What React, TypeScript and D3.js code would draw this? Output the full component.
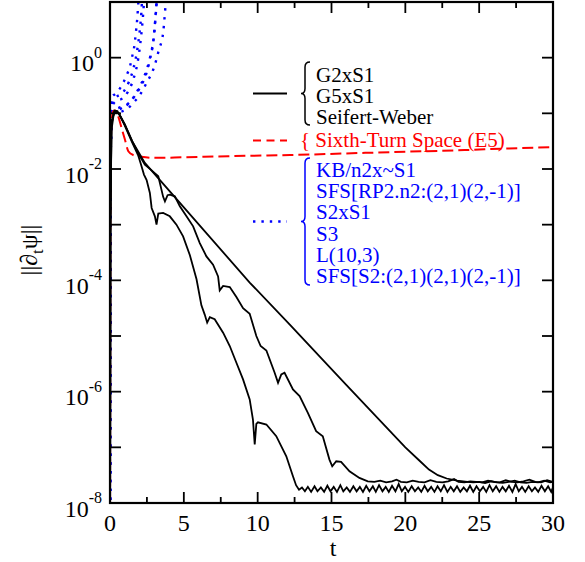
import React from "react";
import * as d3 from "d3";

// t-axis ticks and log-axis decades
const xTicksMajor = [0, 5, 10, 15, 20, 25, 30];
const xTicksMinor = [2.5, 7.5, 12.5, 17.5, 22.5, 27.5];
const yDecades = [-8, -7, -6, -5, -4, -3, -2, -1, 0, 1];
const yLabelDecades = [-8, -6, -4, -2, 0];

// series: [t, log10 ||d_t psi||]
const seriesSteep: [number, number][] = [
  [0, -10], [0.03, -3], [0.1, -1.3], [0.25, -1.02], [0.4, -0.97], [0.6, -1.0], [1.0, -1.22], [1.5, -1.52],
  [1.9, -1.75], [2.1, -1.92], [2.3, -2.1], [2.48, -2.2], [2.7, -2.43], [2.82, -2.7], [3.04, -2.85], [3.15, -3.0],
  [3.27, -2.8], [3.6, -2.79], [4.05, -2.85], [4.5, -3.0], [4.95, -3.21], [5.41, -3.55], [5.86, -3.98], [6.19, -4.45],
  [6.42, -4.62], [6.58, -4.76], [6.76, -4.66], [7.09, -4.7], [7.66, -4.94], [8.11, -5.18], [8.56, -5.48], [9.01, -5.78],
  [9.46, -6.14], [9.68, -6.5], [9.8, -6.95], [9.91, -6.58], [10.02, -6.55], [10.59, -6.59], [11.26, -6.8], [11.94, -7.16],
  [12.39, -7.52], [12.6, -7.68], [12.8, -7.76],
  [13.0, -7.72], [13.2, -7.79], [13.4, -7.71], [13.62, -7.8], [13.85, -7.7], [14.05, -7.79], [14.28, -7.72], [14.5, -7.8],
  [14.72, -7.69], [14.93, -7.79], [15.15, -7.71], [15.37, -7.8], [15.6, -7.68], [15.8, -7.79], [16.03, -7.72], [16.25, -7.8],
  [16.48, -7.7], [16.7, -7.79], [16.92, -7.71], [17.13, -7.8], [17.35, -7.69], [17.57, -7.79], [17.8, -7.7], [18.0, -7.8],
  [18.22, -7.68], [18.45, -7.79], [18.67, -7.71], [18.88, -7.8], [19.1, -7.69], [19.33, -7.79], [19.55, -7.66], [19.76, -7.79],
  [19.98, -7.71], [20.2, -7.8], [20.43, -7.7], [20.65, -7.79], [20.87, -7.72], [21.08, -7.8], [21.3, -7.69], [21.52, -7.79],
  [21.75, -7.71], [21.97, -7.8], [22.18, -7.7], [22.4, -7.79], [22.62, -7.68], [22.85, -7.8], [23.07, -7.71], [23.28, -7.79],
  [23.5, -7.7], [23.72, -7.8], [23.95, -7.72], [24.17, -7.79], [24.38, -7.69], [24.6, -7.8], [24.82, -7.7], [25.05, -7.79],
  [25.27, -7.71], [25.48, -7.8], [25.7, -7.68], [25.92, -7.79], [26.15, -7.7], [26.37, -7.8], [26.58, -7.71], [26.8, -7.79],
  [27.02, -7.69], [27.25, -7.8], [27.47, -7.66], [27.68, -7.79], [27.9, -7.71], [28.12, -7.8], [28.35, -7.7], [28.57, -7.79],
  [28.78, -7.72], [29.0, -7.8], [29.22, -7.69], [29.45, -7.79], [29.67, -7.7], [29.88, -7.8], [30.0, -7.72],
];

const seriesWiggly: [number, number][] = [
  [0, -10], [0.03, -3], [0.1, -1.2], [0.3, -0.95], [0.5, -0.96], [1.0, -1.2], [1.5, -1.5], [2.0, -1.76],
  [2.36, -1.92], [2.8, -2.02], [3.27, -2.13], [3.6, -2.5], [3.72, -2.58], [3.9, -2.47], [4.05, -2.46], [4.39, -2.49],
  [4.73, -2.67], [5.18, -2.85], [5.63, -3.03], [6.08, -3.33], [6.53, -3.57], [6.98, -3.72], [7.32, -3.93], [7.43, -4.18],
  [7.66, -4.1], [8.11, -4.12], [8.56, -4.3], [9.01, -4.5], [9.46, -4.6], [9.91, -5.0], [10.2, -5.18], [10.59, -5.26],
  [11.15, -5.66], [11.38, -5.84], [11.6, -5.69], [11.82, -5.66], [12.39, -5.96], [12.84, -6.08], [13.4, -6.38], [13.96, -6.71],
  [14.41, -6.8], [14.86, -7.22], [15.05, -7.34], [15.32, -7.25], [15.65, -7.26], [16.22, -7.43], [16.89, -7.55], [17.46, -7.61],
  [17.9, -7.62], [18.3, -7.6], [18.7, -7.63], [19.1, -7.61], [19.4, -7.58], [19.7, -7.62], [20.1, -7.63], [20.5, -7.6],
  [20.9, -7.62], [21.3, -7.63], [21.7, -7.59], [22.1, -7.62], [22.5, -7.63], [22.9, -7.61], [23.3, -7.57], [23.6, -7.62],
  [24.0, -7.63], [24.4, -7.61], [24.8, -7.62], [25.2, -7.63], [25.6, -7.6], [26.0, -7.62], [26.4, -7.63], [26.8, -7.59],
  [27.2, -7.62], [27.6, -7.63], [28.0, -7.61], [28.4, -7.58], [28.8, -7.62], [29.2, -7.63], [29.6, -7.59], [30.0, -7.62],
];

const seriesStraight: [number, number][] = [
  [0, -10], [0.03, -3], [0.1, -1.15], [0.3, -0.97], [0.6, -1.0], [1.0, -1.2], [1.5, -1.5], [2.36, -1.89],
  [5.0, -2.69], [9.46, -4.04], [12.16, -4.79], [16.0, -5.88], [20.0, -7.0], [21.0, -7.25], [21.6, -7.4], [22.2, -7.5],
  [22.8, -7.56], [23.5, -7.6], [24.2, -7.62], [24.6, -7.63], [25.0, -7.62], [25.4, -7.64], [25.8, -7.61], [26.2, -7.63],
  [26.6, -7.64], [27.0, -7.62], [27.4, -7.6], [27.8, -7.63], [28.2, -7.64], [28.6, -7.62], [29.0, -7.63], [29.4, -7.6],
  [29.8, -7.63], [30.0, -7.62],
];

const seriesE5: [number, number][] = [
  [0, -10], [0.02, -3], [0.08, -1.3], [0.2, -0.97], [0.35, -0.95], [0.55, -1.05], [0.8, -1.28], [1.01, -1.47],
  [1.24, -1.68], [1.58, -1.75], [2.14, -1.78], [3, -1.8], [5, -1.79], [8, -1.77], [12.2, -1.75], [16, -1.72],
  [20, -1.69], [24, -1.66], [27, -1.63], [30, -1.61],
];

const blueSeries: [number, number][][] = [
  [[0, -10], [0.03, -2], [0.1, -0.8], [0.2, -0.68], [0.34, -0.66], [0.6, -0.58], [0.9, -0.45], [1.15, -0.3], [1.35, -0.16], [1.5, 0.02], [1.62, 0.16], [1.76, 0.47], [1.85, 0.72], [1.91, 0.95], [2.0, 1.3]],
  [[0, -10], [0.03, -2], [0.12, -0.9], [0.4, -0.78], [0.79, -0.74], [1.24, -0.6], [1.58, -0.39], [1.91, -0.02], [2.05, 0.25], [2.17, 0.55], [2.25, 0.8], [2.35, 1.2]],
  [[0, -10], [0.03, -2], [0.15, -0.95], [0.6, -0.9], [1.19, -0.84], [1.87, -0.59], [2.36, -0.31], [2.7, -0.01], [2.93, 0.29], [3.09, 0.77], [3.2, 1.2]],
  [[0, -10], [0.03, -2], [0.15, -1.0], [0.6, -0.98], [1.13, -0.93], [1.58, -0.81], [2.0, -0.68], [2.48, -0.45], [3.0, -0.16], [3.31, 0.14], [3.6, 0.45], [3.76, 0.93], [3.85, 1.2]],
  [[0, -10], [0.03, -2], [0.1, -0.85], [0.4, -0.72], [0.9, -0.62], [1.3, -0.42], [1.6, -0.18], [1.85, 0.15], [2.0, 0.45], [2.12, 0.8], [2.2, 1.2]],
  [[0, -10], [0.03, -2], [0.15, -0.98], [0.7, -0.92], [1.4, -0.78], [2.0, -0.55], [2.5, -0.25], [2.8, 0.1], [3.0, 0.45], [3.12, 0.85], [3.22, 1.2]],
];

const legendBlack = ["G2xS1", "G5xS1", "Seifert-Weber"];
const legendRed = ["Sixth-Turn Space (E5)"];
const legendBlue = ["KB/n2x~S1", "SFS[RP2.n2:(2,1)(2,-1)]", "S2xS1", "S3", "L(10,3)", "SFS[S2:(2,1)(2,1)(2,-1)]"];

const W = 585, H = 562;
const L = 110, R = 553, T = 2, B = 503;
const FONT = "Liberation Serif, Times New Roman, Times, DejaVu Serif, serif";

function brace(x: number, y1: number, y2: number) {
  const ym = (y1 + y2) / 2;
  return `M${x + 5},${y1} Q${x},${y1} ${x},${y1 + 5} L${x},${ym - 5} Q${x},${ym} ${x - 4},${ym} Q${x},${ym} ${x},${ym + 5} L${x},${y2 - 5} Q${x},${y2} ${x + 5},${y2}`;
}

export default function App() {
  const x = d3.scaleLinear().domain([0, 30]).range([L, R]);
  const y = d3.scaleLog().domain([1e-8, 1e1]).range([B, T]);
  const toPts = (s: [number, number][]) => s.map(([t, v]) => [t, Math.pow(10, v)] as [number, number]);
  const lineLin = d3.line<[number, number]>().x((d) => x(d[0])).y((d) => y(d[1])).curve(d3.curveLinear);
  const lineSmooth = d3.line<[number, number]>().x((d) => x(d[0])).y((d) => y(d[1])).curve(d3.curveMonotoneX);

  const legendX1 = 253, legendX2 = 287, textX = 316;
  const ts = { fontFamily: FONT } as React.CSSProperties;
  return (
    <svg width={W} height={H} style={{ position: "absolute", left: 0, top: 0, background: "#fff", fontFamily: FONT }}>
      <defs>
        <clipPath id="plot">
          <rect x={L} y={T} width={R - L} height={B - T} />
        </clipPath>
      </defs>
      <rect x={0} y={0} width={W} height={H} fill="#fff" />
      <g clipPath="url(#plot)" fill="none">
        {blueSeries.map((s, i) => (
          <path key={i} d={lineSmooth(toPts(s)) || ""} stroke="#0000ff" strokeWidth={2.4} strokeDasharray="2.4 6.4" />
        ))}
        <path d={lineSmooth(toPts(seriesE5)) || ""} stroke="#ff0000" strokeWidth={2} strokeDasharray="11 5" />
        <path d={lineLin(toPts(seriesStraight)) || ""} stroke="#000" strokeWidth={1.8} />
        <path d={lineLin(toPts(seriesWiggly)) || ""} stroke="#000" strokeWidth={1.8} />
        <path d={lineLin(toPts(seriesSteep)) || ""} stroke="#000" strokeWidth={1.8} />
      </g>
      {/* frame */}
      <rect x={L} y={T} width={R - L} height={B - T} fill="none" stroke="#000" strokeWidth={2.2} />
      {/* x ticks */}
      {xTicksMajor.map((t) => (
        <g key={"xm" + t}>
          <line x1={x(t)} x2={x(t)} y1={B} y2={B - 11} stroke="#000" strokeWidth={1.8} />
          <line x1={x(t)} x2={x(t)} y1={T} y2={T + 11} stroke="#000" strokeWidth={1.8} />
          <text style={ts} x={x(t)} y={531} fontSize={24} textAnchor="middle">{t}</text>
        </g>
      ))}
      {xTicksMinor.map((t) => (
        <g key={"xn" + t}>
          <line x1={x(t)} x2={x(t)} y1={B} y2={B - 6} stroke="#000" strokeWidth={1.8} />
          <line x1={x(t)} x2={x(t)} y1={T} y2={T + 6} stroke="#000" strokeWidth={1.8} />
        </g>
      ))}
      {yDecades.map((d) => (
        <g key={"y" + d}>
          <line x1={L} x2={L + 11} y1={y(Math.pow(10, d))} y2={y(Math.pow(10, d))} stroke="#000" strokeWidth={1.8} />
          <line x1={R} x2={R - 11} y1={y(Math.pow(10, d))} y2={y(Math.pow(10, d))} stroke="#000" strokeWidth={1.8} />
        </g>
      ))}
      {yLabelDecades.map((d) => (
        <text style={ts} key={"yl" + d} x={102} y={y(Math.pow(10, d)) + 13.5} fontSize={24} textAnchor="end">
          10<tspan dy={-13.5} fontSize={16}>{d}</tspan>
        </text>
      ))}
      {/* axis titles */}
      <text style={ts} x={333} y={556} fontSize={24} textAnchor="middle">t</text>
      <text style={ts} transform={`translate(37,250) rotate(-90)`} fontSize={24} textAnchor="middle">
        ||∂<tspan dy={6} fontSize={17}>t</tspan><tspan dy={-6}>ψ||</tspan>
      </text>
      {/* legend */}
      <line x1={legendX1} x2={legendX2} y1={93.5} y2={93.5} stroke="#000" strokeWidth={1.8} />
      <path d={brace(305, 62, 125)} fill="none" stroke="#000" strokeWidth={1.5} />
      {legendBlack.map((s, i) => (
        <text style={ts} key={s} x={textX} y={82 + i * 21} fontSize={21} fill="#000">{s}</text>
      ))}
      <line x1={legendX1} x2={legendX2} y1={140.5} y2={140.5} stroke="#ff0000" strokeWidth={2} strokeDasharray="8 5.5" />
      {legendRed.map((s) => (
        <text style={ts} key={s} x={300} y={146.5} fontSize={21} fill="#ff0000">{"{ " + s}</text>
      ))}
      <line x1={legendX1} x2={legendX2} y1={221.5} y2={221.5} stroke="#0000ff" strokeWidth={2.4} strokeDasharray="2.4 6" />
      <path d={brace(305, 158, 285)} fill="none" stroke="#0000ff" strokeWidth={1.5} />
      {legendBlue.map((s, i) => (
        <text style={ts} key={s} x={textX} y={177 + i * 21.2} fontSize={21} fill="#0000ff">{s}</text>
      ))}
    </svg>
  );
}
